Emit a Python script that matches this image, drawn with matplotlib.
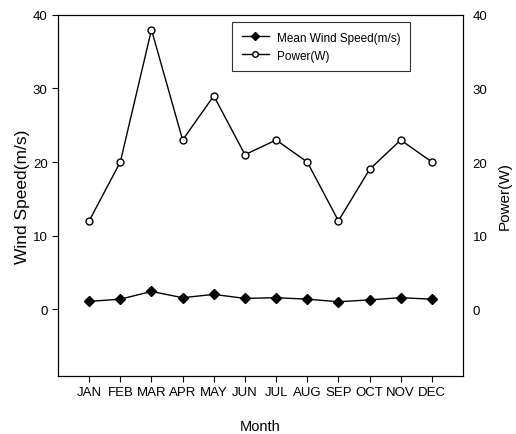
import matplotlib
matplotlib.use("Agg")
import matplotlib.pyplot as plt
import numpy as np

plt.rcParams['font.family'] = ['Liberation Sans', 'DejaVu Sans']

months = ["JAN", "FEB", "MAR", "APR", "MAY", "JUN", "JUL", "AUG", "SEP", "OCT", "NOV", "DEC"]
wind = [1.05, 1.35, 2.4, 1.55, 2.0, 1.45, 1.55, 1.35, 1.0, 1.25, 1.55, 1.35]
power = [12, 20, 38, 23, 29, 21, 23, 20, 12, 19, 23, 20]

fig = plt.figure(figsize=(5.16, 4.35), dpi=100)
ax = fig.add_axes([0.1124, 0.1333, 0.785, 0.83])
x = np.arange(len(months))

ax.plot(x, wind, '-D', color='black', lw=1, ms=5, markerfacecolor='black',
        label="Mean Wind Speed(m/s)")
ax.plot(x, power, '-o', color='black', lw=1, ms=5, markerfacecolor='white',
        label="Power(W)")

ax.set_xlim(-1, 12)
ax.set_ylim(-9.1, 40)
ax.set_xticks(x)
ax.set_xticklabels(months, fontsize=9.5)
ax.set_yticks([0, 10, 20, 30, 40])
ax.tick_params(labelsize=9.5, length=4, width=0.8)
ax.set_xlabel("Month", fontsize=10.5, labelpad=15)
ax.set_ylabel("Wind Speed(m/s)", fontsize=12.5, labelpad=2)

ax2 = ax.twinx()
ax2.set_ylim(-9.1, 40)
ax2.set_yticks([0, 10, 20, 30, 40])
ax2.tick_params(labelsize=9.5, length=0, pad=7)
ax2.set_ylabel("Power(W)", fontsize=11, labelpad=7)

leg = ax.legend(loc='upper left', bbox_to_anchor=(0.43, 0.98), fontsize=8.5,
                frameon=True, fancybox=False, edgecolor='black',
                handlelength=2.3, handletextpad=0.7, borderpad=0.8,
                labelspacing=0.5, markerscale=0.8, borderaxespad=0)
leg.get_frame().set_linewidth(0.8)

fig.savefig("out.png", dpi=100)
